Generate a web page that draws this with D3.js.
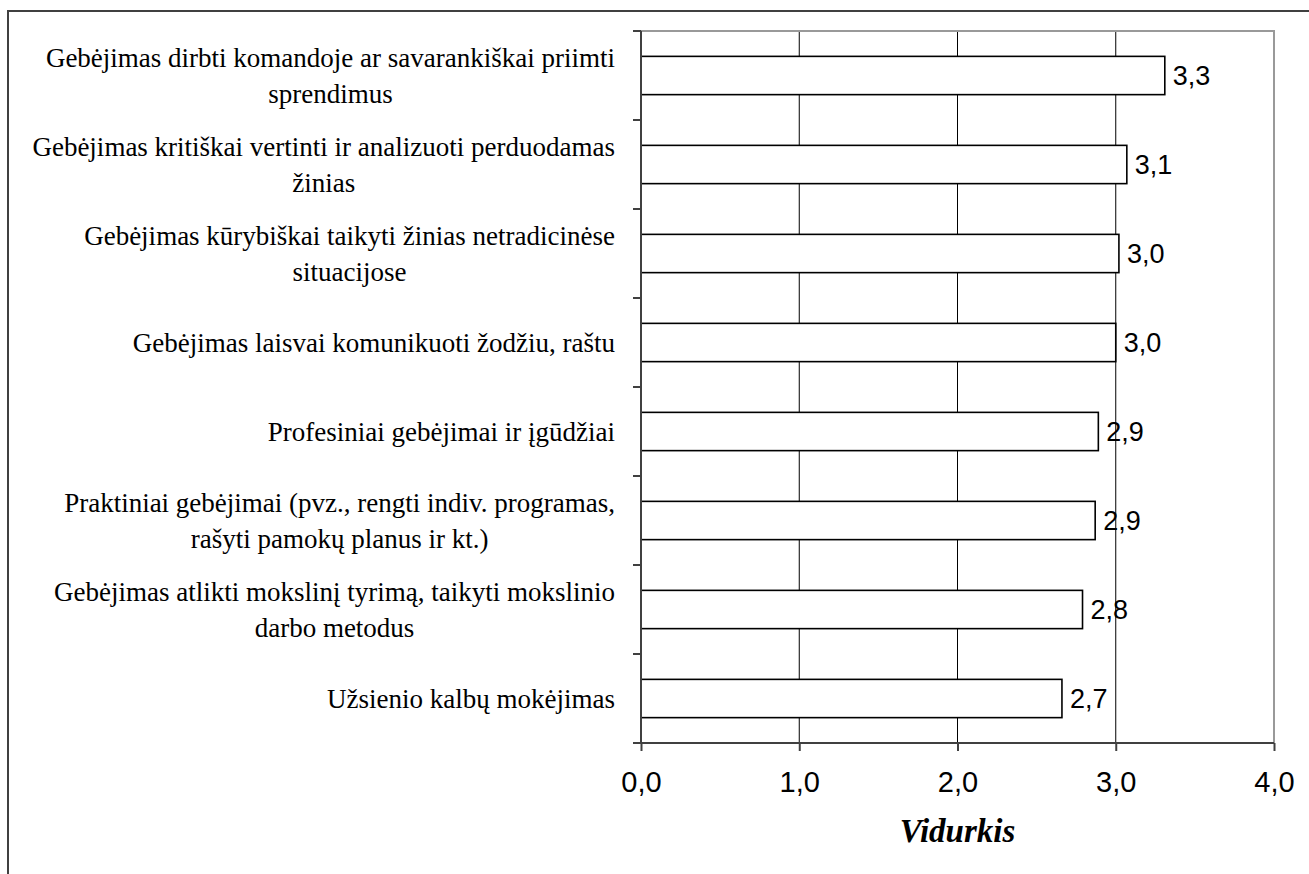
<!DOCTYPE html>
<html><head><meta charset="utf-8">
<script src="https://cdn.jsdelivr.net/npm/d3@7"></script>
<style>body{margin:0;background:#fff}svg{display:block}</style>
</head><body>
<svg id="c" width="1309" height="874"></svg>
<script>
const categories = [
  ["Gebėjimas dirbti komandoje ar savarankiškai priimti", "sprendimus"],
  ["Gebėjimas kritiškai vertinti ir analizuoti perduodamas", "žinias"],
  ["Gebėjimas kūrybiškai taikyti žinias netradicinėse", "situacijose"],
  ["Gebėjimas laisvai komunikuoti žodžiu, raštu"],
  ["Profesiniai gebėjimai ir įgūdžiai"],
  ["Praktiniai gebėjimai (pvz., rengti indiv. programas,", "rašyti pamokų planus ir kt.)"],
  ["Gebėjimas atlikti mokslinį tyrimą, taikyti mokslinio", "darbo metodus"],
  ["Užsienio kalbų mokėjimas"]
];
const values = [3.31, 3.07, 3.02, 3.00, 2.89, 2.87, 2.79, 2.66];
const xTicks = [0, 1, 2, 3, 4];
const axisTitle = "Vidurkis";

const svg = d3.select("#c");
const m = {left: 641, right: 1274, top: 31, bottom: 743};
const x = d3.scaleLinear().domain([0, 4]).range([m.left, m.right]);
const y = d3.scaleBand().domain(d3.range(categories.length)).range([m.top, m.bottom]).paddingInner(0.57).paddingOuter(0.285);
const fmt = v => v.toFixed(1).replace(".", ",");

// outer border
svg.append("rect").attr("x", 8).attr("y", 11).attr("width", 1320).attr("height", 900)
  .attr("fill", "none").attr("stroke", "#404040").attr("stroke-width", 2);

// gridlines
svg.append("g").selectAll("line").data(xTicks.filter(d => d > 0 && d < 4)).join("line")
  .attr("x1", d => x(d)).attr("x2", d => x(d)).attr("y1", m.top).attr("y2", m.bottom)
  .attr("stroke", "#000").attr("stroke-width", 1);

// plot border top/right
svg.append("path").attr("d", `M${m.left},${m.top}H${m.right}V${m.bottom}`)
  .attr("fill", "none").attr("stroke", "#999").attr("stroke-width", 2);

// bars
svg.append("g").selectAll("rect").data(values).join("rect")
  .attr("x", x(0)).attr("y", (d, i) => y(i)).attr("width", d => x(d) - x(0)).attr("height", y.bandwidth())
  .attr("fill", "#fff").attr("stroke", "#000").attr("stroke-width", 1.6);

// value labels
svg.append("g").selectAll("text").data(values).join("text")
  .attr("x", d => x(d) + 8).attr("y", (d, i) => y(i) + y.bandwidth() / 2)
  .attr("dy", "0.36em")
  .attr("font-family", "Liberation Sans, Arial, sans-serif").attr("font-size", 27)
  .text(d => fmt(d));

// x axis
const xAxis = d3.axisBottom(x).tickValues(xTicks).tickFormat(fmt).tickSize(8).tickSizeOuter(0);
const gx = svg.append("g").attr("transform", `translate(0,${m.bottom})`).call(xAxis);
gx.select(".domain").attr("stroke", "#404040").attr("stroke-width", 2).attr("d", `M${m.left - 8},0H${m.right}`);
gx.selectAll(".tick line").attr("stroke", "#404040").attr("stroke-width", 2);
gx.selectAll(".tick text").attr("font-family", "Liberation Sans, Arial, sans-serif").attr("font-size", 29)
  .attr("fill", "#000").attr("y", 28).attr("dy", "0.71em");

// y axis
const band = (m.bottom - m.top) / categories.length;
const yTickPos = d3.range(categories.length + 1).map(i => m.top + i * band);
svg.append("line").attr("x1", m.left).attr("x2", m.left).attr("y1", m.top).attr("y2", m.bottom)
  .attr("stroke", "#404040").attr("stroke-width", 2);
svg.append("g").selectAll("line").data(yTickPos).join("line")
  .attr("x1", m.left - 8).attr("x2", m.left).attr("y1", d => d).attr("y2", d => d)
  .attr("stroke", "#404040").attr("stroke-width", 2);

// category labels
const labelRight = 615;
const lineH = 36;
const lg = svg.append("g").attr("font-family", "Liberation Serif, Times New Roman, serif").attr("font-size", 27);
categories.forEach((lines, i) => {
  const cy = y(i) + y.bandwidth() / 2;
  const t = lg.append("text").attr("text-anchor", "middle");
  const n = lines.length;
  const spans = lines.map((s, k) => t.append("tspan").attr("y", cy + (k - (n - 1) / 2) * lineH).attr("dy", "0.35em").text(s));
  const w = d3.max(spans, s => s.node().getComputedTextLength());
  spans.forEach(s => s.attr("x", labelRight - w / 2));
});

// axis title
svg.append("text").attr("x", (x(0) + x(4)) / 2).attr("y", 842).attr("text-anchor", "middle")
  .attr("font-family", "Liberation Serif, Times New Roman, serif").attr("font-size", 33)
  .attr("font-weight", "bold").attr("font-style", "italic").text(axisTitle);
</script>
</body></html>
